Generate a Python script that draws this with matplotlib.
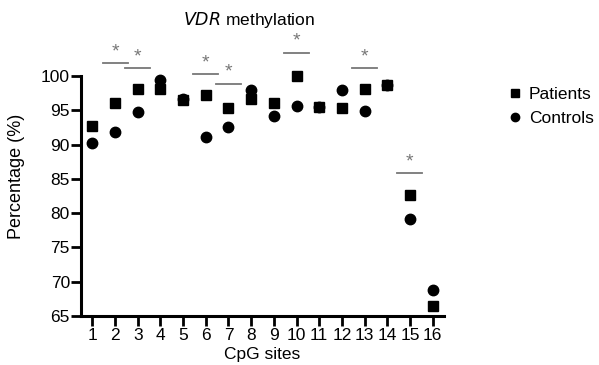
import matplotlib
matplotlib.use("Agg")
import matplotlib.pyplot as plt

### Data
sites = list(range(1, 17))
patients = [92.7, 96.1, 98.1, 98.1, 96.5, 97.3, 95.4, 96.7, 96.1, 100.0, 95.5, 95.4, 98.1, 98.7, 82.6, 66.5]
controls = [90.3, 91.9, 94.8, 99.4, 96.7, 91.1, 92.6, 97.9, 94.2, 95.6, 95.5, 98.0, 94.9, 98.7, 79.1, 68.8]

### significant sites and height of their bars
sig_sites = [2, 3, 6, 7, 10, 13, 15]
sig_bar_y = [101.85, 101.1, 100.3, 98.9, 103.4, 101.1, 85.8]

plt.rcParams['font.family'] = ['Liberation Sans', 'DejaVu Sans']

fig = plt.figure(figsize=(5.99, 3.65), dpi=100)
ax = fig.add_axes([81/599, 1-316/365, (444-81)/599, (316-76)/365])

ax.plot(sites, patients, linestyle="none", marker="s", color="k", markersize=7.5, label="Patients", clip_on=False)
ax.plot(sites, controls, linestyle="none", marker="o", color="k", markersize=7.5, label="Controls", clip_on=False)

for s, y in zip(sig_sites, sig_bar_y):
    ax.plot([s-0.55, s+0.55], [y, y], color="#777777", lw=1.3, clip_on=False)
    ax.text(s, y+0.4, "*", color="#777777", fontsize=14, ha="center", va="bottom", clip_on=False)

ax.set_xlim(0.5, 16.5)
ax.set_ylim(65, 100)
ax.set_xticks(sites)
ax.set_yticks([65, 70, 75, 80, 85, 90, 95, 100])
ax.tick_params(axis="both", width=2, length=7, labelsize=12.5, color="k")
ax.tick_params(axis="x", pad=2)
ax.tick_params(axis="y", pad=1)
for side in ["top", "right"]:
    ax.spines[side].set_visible(False)
for side in ["left", "bottom"]:
    ax.spines[side].set_linewidth(2.2)

ax.set_xlabel("CpG sites", fontsize=12.5)
ax.set_ylabel("Percentage (%)", fontsize=13)
ax.xaxis.set_label_coords(0.5, -0.128)
ax.yaxis.set_label_coords(-0.155, 0.58)

fig.text(249/599, 1-20/365, r"$\it{VDR}$ methylation", fontsize=12.5, ha="center", va="center")

leg = fig.legend(loc="upper left", bbox_to_anchor=(496/599, 1-78/365), frameon=False,
                 fontsize=12.5, handletextpad=0.2, labelspacing=0.5, markerscale=0.8,
                 handlelength=1.2, borderpad=0)

plt.savefig("out.png", dpi=100)
